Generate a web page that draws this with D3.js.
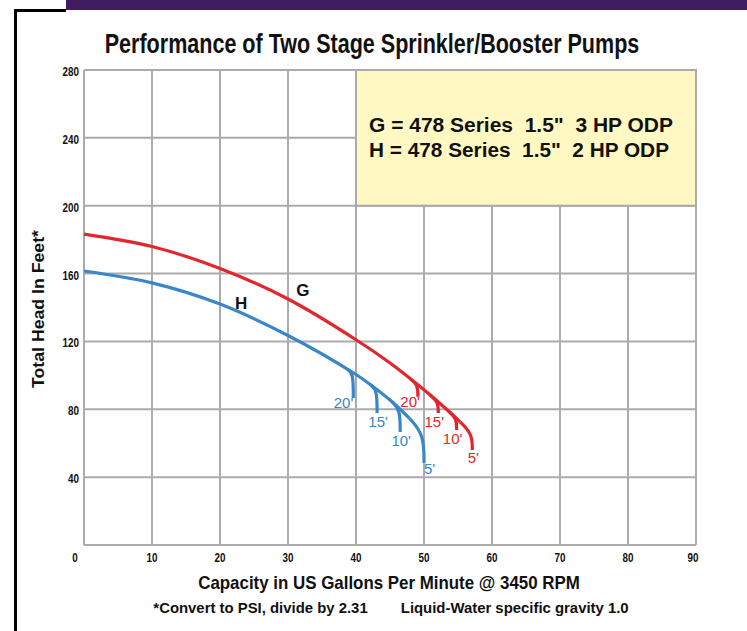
<!DOCTYPE html>
<html><head><meta charset="utf-8">
<script src="https://cdn.jsdelivr.net/npm/d3@7/dist/d3.min.js"></script>
<style>
html,body{margin:0;padding:0;background:#fff;}
svg{display:block;}
.cond{font-family:"Liberation Sans",Arial,Helvetica,sans-serif;font-weight:bold;}
.helv{font-family:"Liberation Sans",Arial,Helvetica,sans-serif;}
</style></head><body>
<svg id="chart" width="747" height="631"></svg>
<script>
// ---------- data ----------
const xTicks = [0,10,20,30,40,50,60,70,80,90];
const yTicks = [0,40,80,120,160,200,240,280];
const title = "Performance of Two Stage Sprinkler/Booster Pumps";
const xTitle = "Capacity in US Gallons Per Minute @ 3450 RPM";
const yTitle = "Total Head In Feet*";
const footnote = "*Convert to PSI, divide by 2.31        Liquid-Water specific gravity 1.0";
const legendLines = ["G = 478 Series  1.5\"  3 HP ODP", "H = 478 Series  1.5\"  2 HP ODP"];
const legendExtent = {x0:40, x1:90, y0:200, y1:280};

// main curves (gpm, feet)
const gMain = [[0,183.3],[10,176],[20,163],[30,145],[40,121],[45,107.3],[50,91.5],[53.6,79],[55.3,72.6]];
const hMain = [[0,161.5],[10,154.5],[20,142],[30,123.5],[40,100.5],[42.1,94.6],[45.3,84.4],[47.9,74.5]];
// spurs (start on curve, bend, end) for 20', 15', 10', 5'
const spurLabels = ["20'","15'","10'","5'"];
const gSpurs = [
  [[47.9,98.2],[49.1,94.6],[49.1,87.4]],
  [[50.9,88.4],[52.1,84.2],[52.1,77.8]],
  [[53.6,79.0],[54.8,74.6],[54.8,67.8]],
  [[55.3,72.6],[57.1,65.5],[57.1,56]]
];
const hSpurs = [
  [[38.7,103.6],[39.6,101.5],[39.6,86.7]],
  [[42.1,94.6],[43.1,91.5],[43.1,77.8]],
  [[45.3,84.4],[46.5,79.6],[46.5,66.6]],
  [[47.9,74.5],[50,65],[50,48.3]]
];
const curveLetters = [{name:"H", x:23.1, y:142.7},{name:"G", x:32.2, y:150.3}];

// ---------- layout / style ----------
const W=747, H=631;
const M = {left:84, right:696, top:70, bottom:545};
const colors = {G:"#e2262d", H:"#3986c8"};
const gridColor = "#ababab";
// label offsets relative to spur ends [dx, dy, anchor]
const gLabelOff = [[2,10,"end"],[-4,14,"middle"],[-4,14,"middle"],[1,13,"middle"]];
const hLabelOff = [[0,10,"end"],[1,14,"middle"],[1,14,"middle"],[0,11,"start"]];

const svg = d3.select("#chart");
const x = d3.scaleLinear().domain([0,90]).range([M.left, M.right]);
const y = d3.scaleLinear().domain([0,280]).range([M.bottom, M.top]);

function squeeze(sel, factor){
  sel.each(function(){
    const len = this.getComputedTextLength();
    this.setAttribute("textLength", len*factor);
    this.setAttribute("lengthAdjust","spacingAndGlyphs");
  });
}
// condensed text via horizontal scale transform, fitted to a target width
function condensedText(cx, cy, rot, size, str, target, pre){
  const t = svg.append("text").attr("class","cond").attr("x",0).attr("y",0)
    .attr("text-anchor","middle").attr("font-size",size).attr("fill","#111");
  if(pre) t.attr("xml:space","preserve").style("white-space","pre");
  t.text(str);
  const s = target / t.node().getComputedTextLength();
  t.attr("transform",`translate(${cx},${cy}) rotate(${rot}) scale(${s},1)`);
  return t;
}

// frame
svg.append("rect").attr("x",66).attr("y",0).attr("width",W-66).attr("height",10).attr("fill","#3f1d5e");
svg.append("path").attr("d","M15.5,631 V10.5 H66").attr("fill","none").attr("stroke","#000").attr("stroke-width",3);

// title
condensedText(372, 53, 0, 28, title, 535);

// grid
const grid = svg.append("g");
grid.selectAll("line.v").data(xTicks).join("line").attr("class","v")
  .attr("x1",d=>x(d)).attr("x2",d=>x(d)).attr("y1",y(0)).attr("y2",y(280))
  .attr("stroke",gridColor).attr("stroke-width",2);
grid.selectAll("line.h").data(yTicks).join("line").attr("class","h")
  .attr("x1",x(0)).attr("x2",x(90)).attr("y1",d=>y(d)).attr("y2",d=>y(d))
  .attr("stroke",gridColor).attr("stroke-width",2);

// legend box
svg.append("rect").attr("x",x(legendExtent.x0)).attr("y",y(legendExtent.y1))
  .attr("width",x(legendExtent.x1)-x(legendExtent.x0)).attr("height",y(legendExtent.y0)-y(legendExtent.y1))
  .attr("fill","#fff8c2").attr("stroke",gridColor).attr("stroke-width",2);
svg.selectAll("text.leg").data(legendLines).join("text").attr("class","leg helv")
  .attr("x",x(legendExtent.x0)+13).attr("y",(d,i)=>132+i*25)
  .attr("font-size",20).attr("font-weight","bold").attr("fill","#111")
  .attr("xml:space","preserve").style("white-space","pre").text(d=>d)
  .each(function(d,i){ this.setAttribute("textLength",[304,300][i]); this.setAttribute("lengthAdjust","spacingAndGlyphs"); });

// axis tick labels
svg.selectAll("text.xt").data(xTicks).join("text").attr("class","xt cond")
  .attr("x",d=>x(d)+(d===0?-9:(d===90?-3:0))).attr("y",562)
  .attr("text-anchor","middle").attr("font-size",12).attr("fill","#111").text(d=>d)
  .call(squeeze, 0.82);
svg.selectAll("text.yt").data(yTicks.filter(d=>d>0)).join("text").attr("class","yt cond")
  .attr("x",79).attr("y",d=>y(d)+6)
  .attr("text-anchor","end").attr("font-size",12).attr("fill","#111").text(d=>d)
  .call(squeeze, 0.82);

// axis titles
condensedText(389, 589, 0, 17.5, xTitle, 382);
condensedText(391, 613, 0, 14.5, footnote, 476, true);
condensedText(44, 309, -90, 16.5, yTitle, 158);

// curves
const mainLine = d3.line().x(d=>x(d[0])).y(d=>y(d[1])).curve(d3.curveCatmullRom.alpha(0.5));
const spurLine = d3.line().x(d=>x(d[0])).y(d=>y(d[1])).curve(d3.curveBasis);
function drawSeries(name, main, spurs, offs){
  const g = svg.append("g");
  g.append("path").attr("d",mainLine(main)).attr("fill","none")
    .attr("stroke",colors[name]).attr("stroke-width",3.2).attr("stroke-linecap","butt");
  g.selectAll("path.spur").data(spurs).join("path").attr("class","spur")
    .attr("d",d=>spurLine(d)).attr("fill","none")
    .attr("stroke",colors[name]).attr("stroke-width",3.2);
  g.selectAll("text.sl").data(spurs).join("text").attr("class","sl helv")
    .attr("x",(d,i)=>x(d[2][0])+offs[i][0]).attr("y",(d,i)=>y(d[2][1])+offs[i][1])
    .attr("text-anchor",(d,i)=>offs[i][2]).attr("font-size",15).attr("fill",colors[name])
    .text((d,i)=>spurLabels[i]);
}
drawSeries("H", hMain, hSpurs, hLabelOff);
drawSeries("G", gMain, gSpurs, gLabelOff);

// curve letters
svg.selectAll("text.cl").data(curveLetters).join("text").attr("class","cl helv")
  .attr("x",d=>x(d.x)).attr("y",d=>y(d.y)).attr("dy","0.36em")
  .attr("text-anchor","middle").attr("font-size",17).attr("font-weight","bold").attr("fill","#111")
  .text(d=>d.name);
</script>
</body></html>
